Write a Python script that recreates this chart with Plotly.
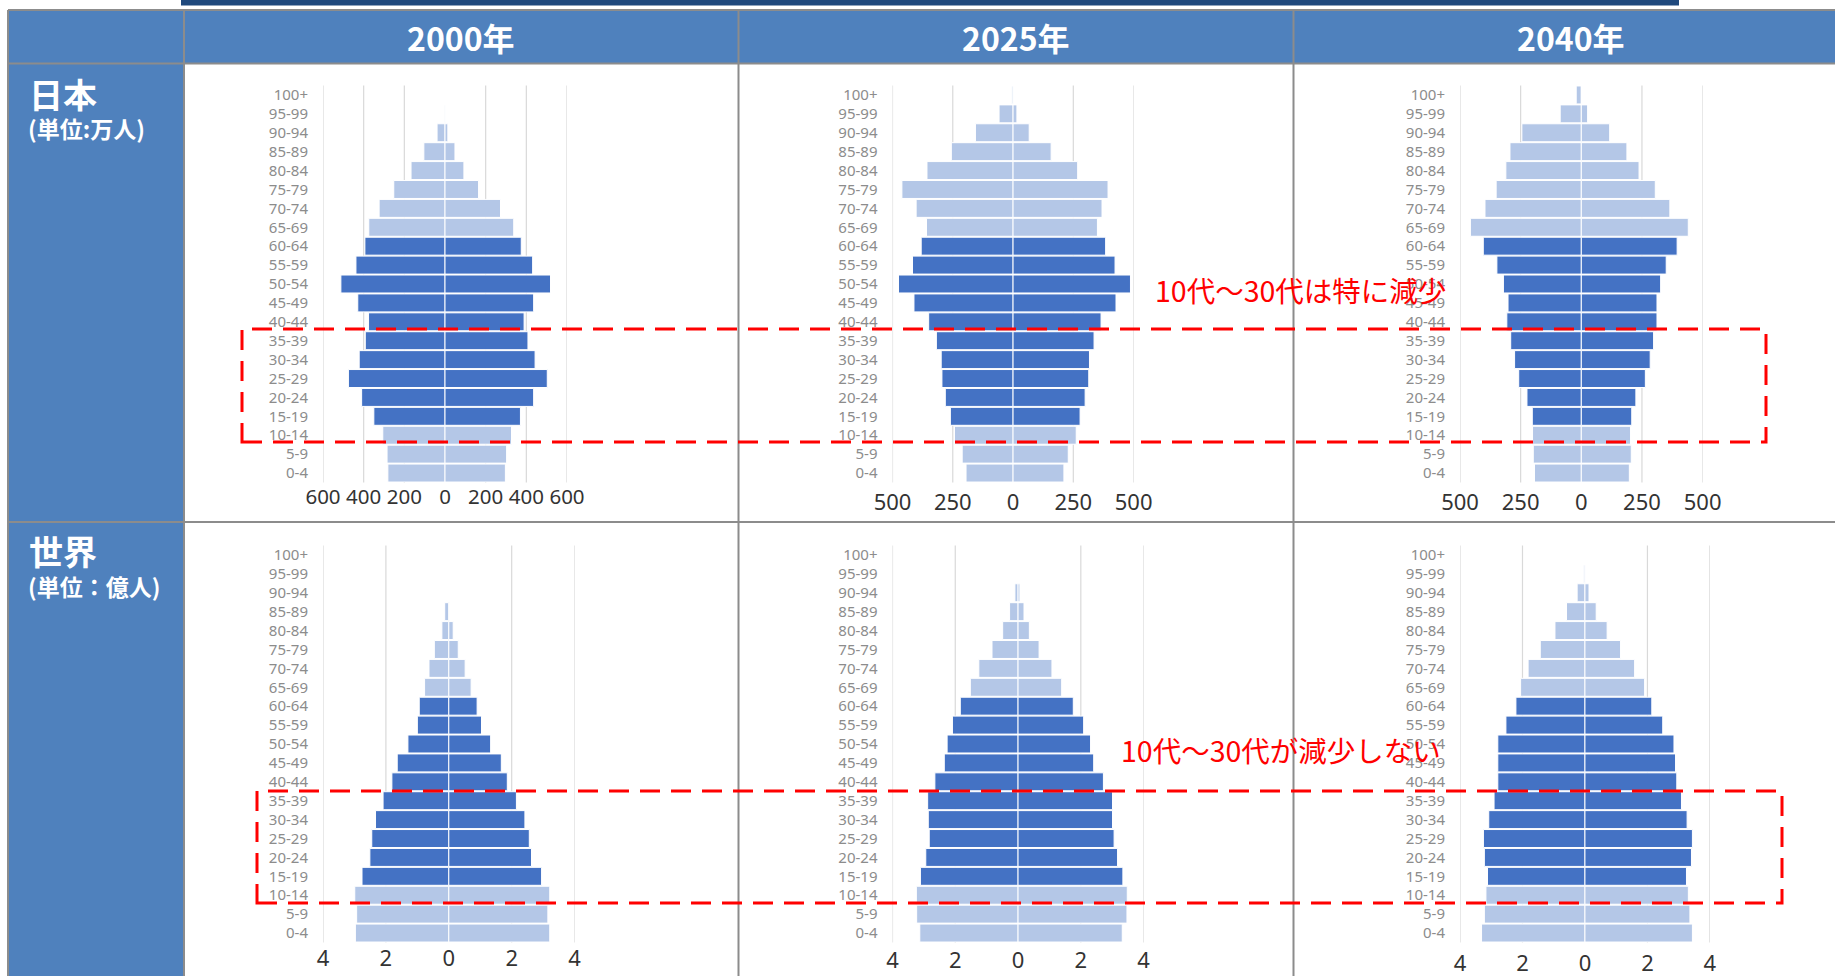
import plotly.graph_objects as go

# ---------------------------------------------------------------------------
# Data: population by 5-year age group (bottom -> top of each pyramid)
# Japan in 万人, world in 億人
# ---------------------------------------------------------------------------
AGE_GROUPS = ["0-4", "5-9", "10-14", "15-19", "20-24", "25-29", "30-34", "35-39",
              "40-44", "45-49", "50-54", "55-59", "60-64", "65-69", "70-74",
              "75-79", "80-84", "85-89", "90-94", "95-99", "100+"]
WORKING_AGE = AGE_GROUPS[3:13]          # 15-64, drawn in the darker colour

YEARS = ["2000年", "2025年", "2040年"]
REGIONS = ["日本", "世界"]
UNITS = ["(単位:万人)", "(単位：億人)"]

japan_2000_female = [281, 285, 306, 350, 410, 475, 422, 392, 376, 429, 512,
                     438, 394, 375, 324, 252, 167, 104, 39, 4, 0]
japan_2000_male = [297, 303, 327, 371, 436, 503, 443, 408, 389, 436, 519,
                   431, 375, 338, 273, 165, 93, 49, 14, 1, 0]

japan_2025_female = [195, 211, 243, 260, 281, 295, 298, 318, 350, 411, 475,
                     417, 381, 359, 402, 461, 357, 256, 156, 58, 6]
japan_2025_male = [211, 229, 262, 278, 299, 314, 317, 336, 365, 427, 487,
                   423, 384, 350, 369, 394, 268, 158, 67, 16, 1]

japan_2040_female = [193, 198, 201, 202, 224, 258, 275, 291, 307, 302, 321,
                     348, 404, 457, 397, 351, 311, 294, 245, 87, 21]
japan_2040_male = [198, 206, 203, 208, 225, 264, 284, 298, 312, 312, 327,
                   350, 395, 441, 365, 305, 238, 188, 117, 26, 1]

world_2000_female = [2.97, 2.93, 2.99, 2.76, 2.51, 2.45, 2.33, 2.09, 1.81, 1.64, 1.30,
                     1.00, 0.94, 0.77, 0.63, 0.46, 0.22, 0.13, 0, 0, 0]
world_2000_male = [3.21, 3.15, 3.21, 2.95, 2.63, 2.56, 2.42, 2.15, 1.86, 1.67, 1.33,
                   1.04, 0.90, 0.71, 0.52, 0.30, 0.14, 0.02, 0, 0, 0]

world_2025_female = [3.13, 3.23, 3.24, 3.11, 2.94, 2.83, 2.86, 2.88, 2.65, 2.35, 2.26,
                     2.09, 1.84, 1.52, 1.25, 0.83, 0.49, 0.27, 0.10, 0, 0]
world_2025_male = [3.32, 3.47, 3.48, 3.34, 3.17, 3.06, 3.01, 3.01, 2.72, 2.41, 2.31,
                   2.09, 1.76, 1.39, 1.08, 0.67, 0.36, 0.19, 0.06, 0, 0]

world_2040_female = [3.31, 3.22, 3.17, 3.12, 3.22, 3.25, 3.08, 2.91, 2.79, 2.79, 2.79,
                     2.53, 2.21, 2.06, 1.82, 1.43, 0.96, 0.59, 0.25, 0.05, 0]
world_2040_male = [3.44, 3.36, 3.31, 3.25, 3.41, 3.44, 3.27, 3.09, 2.94, 2.90, 2.85,
                   2.49, 2.14, 1.91, 1.59, 1.14, 0.71, 0.36, 0.13, 0.01, 0]

ticks_japan_2000 = [-600, -400, -200, 0, 200, 400, 600]
ticks_japan = [-500, -250, 0, 250, 500]
ticks_world = [-4, -2, 0, 2, 4]

NOTE_JAPAN = "10代～30代は特に減少"
NOTE_WORLD = "10代～30代が減少しない"

# ---------------------------------------------------------------------------
# Styling
# ---------------------------------------------------------------------------
W, H = 1835, 976
DARK = "#4472C4"
LIGHT = "#B4C7E7"
HEAD = "#4F81BD"
NAVY = "#1F497D"
RULE = "#8C8C8C"
GRID = "#D9D9D9"
RED = "#FF0000"
JP_FONT = "Noto Sans CJK JP"


def px(x):
    return x / W


def py(y):
    return 1 - y / H


bar_colors = [DARK if a in WORKING_AGE else LIGHT for a in AGE_GROUPS]

# panel: data, ticks, x-extent (px), y-extent (px), tick-label offset, tick font size
panels = [
    (japan_2000_female, japan_2000_male, ticks_japan_2000, (323, 567), (85.5, 482.5), 0, 20.5),
    (japan_2025_female, japan_2025_male, ticks_japan, (892.5, 1133.6), (85.5, 482.5), 4, 22),
    (japan_2040_female, japan_2040_male, ticks_japan, (1460, 1702.6), (85.5, 482.5), 4, 22),
    (world_2000_female, world_2000_male, ticks_world, (323, 574.6), (545.5, 942.5), 0, 22),
    (world_2025_female, world_2025_male, ticks_world, (892.5, 1143.6), (545.5, 942.5), 2, 22),
    (world_2040_female, world_2040_male, ticks_world, (1460, 1709.9), (545.5, 942.5), 5, 22),
]

fig = go.Figure()
shapes = []
layout_axes = {}

for i, (female, male, ticks, (x0, x1), (y0, y1), stand, tsize) in enumerate(panels, start=1):
    xa = "x" if i == 1 else f"x{i}"
    ya = "y" if i == 1 else f"y{i}"
    xkey = "xaxis" if i == 1 else f"xaxis{i}"
    ykey = "yaxis" if i == 1 else f"yaxis{i}"

    for side, vals in (("female", [-v for v in female]), ("male", male)):
        fig.add_trace(go.Bar(
            x=vals, y=AGE_GROUPS, orientation="h", name=side,
            marker=dict(color=bar_colors, line=dict(color="white", width=1)),
            xaxis=xa, yaxis=ya, showlegend=False, hoverinfo="skip",
        ))

    lim = max(abs(t) for t in ticks)
    layout_axes[xkey] = dict(
        domain=[px(x0), px(x1)], anchor=ya, range=[-lim, lim],
        tickvals=ticks, ticktext=[f"{abs(t):g}" for t in ticks],
        tickangle=0, showgrid=False, zeroline=False, showline=False,
        ticks="", ticklabelstandoff=stand, automargin=False,
        tickfont=dict(family="Noto Sans", size=tsize, color="#333333"),
        fixedrange=True,
    )
    layout_axes[ykey] = dict(
        domain=[py(y1), py(y0)], anchor=xa, type="category",
        categoryorder="array", categoryarray=AGE_GROUPS,
        range=[-0.5, len(AGE_GROUPS) - 0.5],
        showgrid=False, zeroline=False, showline=False, ticks="",
        ticklabelstandoff=14, automargin=False,
        tickfont=dict(family="Noto Sans", size=15, color="#8C8C8C"),
        fixedrange=True,
    )

    # vertical gridlines (no line at zero)
    for t in ticks:
        if t == 0:
            continue
        shapes.append(dict(type="line", xref=xa, yref=f"{ya} domain",
                           x0=t, x1=t, y0=0, y1=1, layer="below",
                           line=dict(color=GRID, width=1.2)))

# ---------------------------------------------------------------------------
# Table frame
# ---------------------------------------------------------------------------
def rect(xa0, ya0, xa1, ya1, color):
    return dict(type="rect", xref="paper", yref="paper",
                x0=px(xa0), x1=px(xa1), y0=py(ya1), y1=py(ya0),
                fillcolor=color, line=dict(width=0), layer="below")


def hline(y, xa0, xa1):
    return dict(type="line", xref="paper", yref="paper",
                x0=px(xa0), x1=px(xa1), y0=py(y), y1=py(y),
                line=dict(color=RULE, width=2), layer="above")


def vline(x, ya0, ya1):
    return dict(type="line", xref="paper", yref="paper",
                x0=px(x), x1=px(x), y0=py(ya0), y1=py(ya1),
                line=dict(color=RULE, width=2), layer="above")


shapes += [
    rect(181, 0, 1679, 5.5, NAVY),
    rect(8, 10, W, 63, HEAD),
    rect(8, 63, 184, H, HEAD),
    hline(10, 8, W), hline(63.5, 8, W), hline(522, 8, W),
    vline(8, 10, H), vline(184, 10, H), vline(738.5, 10, H), vline(1293.5, 10, H),
]

# highlighted age band (10-39) in both rows
for bx0, by0, bx1, by1 in ((242, 329, 1766, 442), (257, 791, 1782, 903)):
    shapes.append(dict(type="rect", xref="paper", yref="paper",
                       x0=px(bx0), x1=px(bx1), y0=py(by1), y1=py(by0),
                       line=dict(color=RED, width=3, dash="20px,11px"),
                       fillcolor="rgba(0,0,0,0)", layer="above"))

# ---------------------------------------------------------------------------
# Text
# ---------------------------------------------------------------------------
annotations = []
for year, cx in zip(YEARS, (461, 1016, 1571)):
    annotations.append(dict(text=f"<b>{year}</b>", x=px(cx), y=py(37),
                            xref="paper", yref="paper", showarrow=False,
                            xanchor="center", yanchor="middle",
                            font=dict(family=JP_FONT, size=32, color="white")))

for region, unit, ty, uy in zip(REGIONS, UNITS, (93, 550), (128, 586)):
    annotations.append(dict(text=f"<b>{region}</b>", x=px(27), y=py(ty),
                            xref="paper", yref="paper", showarrow=False,
                            xanchor="left", yanchor="middle",
                            font=dict(family=JP_FONT, size=34, color="white")))
    annotations.append(dict(text=f"<b>{unit}</b>", x=px(26), y=py(uy),
                            xref="paper", yref="paper", showarrow=False,
                            xanchor="left", yanchor="middle",
                            font=dict(family=JP_FONT, size=23, color="white")))

for note, nx, ny in ((NOTE_JAPAN, 1300, 289), (NOTE_WORLD, 1281, 749)):
    annotations.append(dict(text=note, x=px(nx), y=py(ny),
                            xref="paper", yref="paper", showarrow=False,
                            xanchor="center", yanchor="middle",
                            font=dict(family=JP_FONT, size=28.5, color=RED)))

fig.update_layout(
    width=W, height=H,
    margin=dict(l=0, r=0, t=0, b=0, autoexpand=False),
    paper_bgcolor="white", plot_bgcolor="rgba(0,0,0,0)",
    barmode="overlay", bargap=0.05,
    font=dict(family=JP_FONT),
    shapes=shapes, annotations=annotations,
    showlegend=False,
    **layout_axes,
)

fig.write_html("out.html")
